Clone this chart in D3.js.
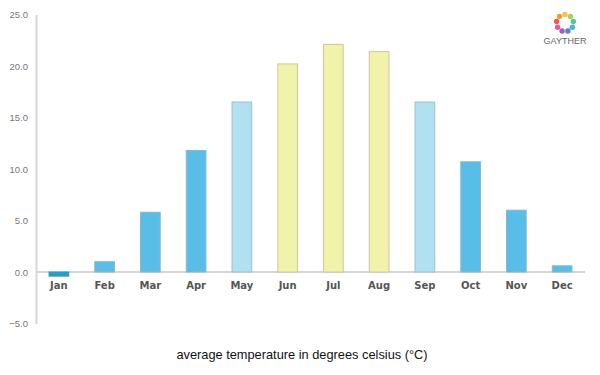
<!DOCTYPE html>
<html>
<head>
<meta charset="utf-8">
<script src="https://cdn.jsdelivr.net/npm/d3@7"></script>
<style>
  body { margin: 0; background: #fff; }
  svg { display: block; }
</style>
</head>
<body>
<div id="chart"></div>
<script>
const months = ['Jan', 'Feb', 'Mar', 'Apr', 'May', 'Jun', 'Jul', 'Aug', 'Sep', 'Oct', 'Nov', 'Dec'];
const temps = [-0.4, 1.0, 5.8, 11.8, 16.5, 20.2, 22.1, 21.4, 16.5, 10.7, 6.0, 0.6];
const seasons = ['cold', 'cool', 'cool', 'cool', 'mild', 'warm', 'warm', 'warm', 'mild', 'cool', 'cool', 'cool'];
const yTicks = [-5, 0, 5, 10, 15, 20, 25];
const title = 'average temperature in degrees celsius (°C)';

const fills = { cold: '#2c9cc6', cool: '#58bee7', mild: '#b1e0f1', warm: '#f1f3aa' };
const strokes = { cold: '#2c9cc6', cool: '#8fb6c6', mild: '#9cc0cc', warm: '#c8c8a0' };

const width = 600, height = 375;
const margin = { top: 14.5, right: 15, bottom: 51.5, left: 36 };

const svg = d3.select('#chart').append('svg')
  .attr('width', width).attr('height', height);

const x = d3.scaleBand()
  .domain(months)
  .range([margin.left, width - margin.right])
  .paddingInner(0.57)
  .paddingOuter(0.285);

const y = d3.scaleLinear()
  .domain([-5, 25])
  .range([height - margin.bottom, margin.top]);

// y axis
const yAxis = svg.append('g')
  .attr('transform', `translate(${margin.left},0)`)
  .call(d3.axisLeft(y).tickValues(yTicks).tickFormat(d3.format('.1f')).tickSize(0).tickPadding(8));
yAxis.select('.domain').attr('stroke', '#d6d6d6').attr('stroke-width', 2);
yAxis.selectAll('text')
  .attr('fill', '#777')
  .style('font-family', '"Liberation Sans", Arial, sans-serif')
  .style('font-size', '9.5px');

// zero line
svg.append('line')
  .attr('x1', margin.left).attr('x2', width - margin.right)
  .attr('y1', y(0)).attr('y2', y(0))
  .attr('stroke', '#d6d6d6').attr('stroke-width', 2);

// bars
svg.append('g').selectAll('rect')
  .data(months)
  .join('rect')
  .attr('x', (d) => x(d))
  .attr('width', x.bandwidth())
  .attr('y', (d, i) => y(Math.max(0, temps[i])))
  .attr('height', (d, i) => Math.abs(y(temps[i]) - y(0)))
  .attr('fill', (d, i) => fills[seasons[i]])
  .attr('stroke', (d, i) => strokes[seasons[i]])
  .attr('stroke-width', 1);

// month labels
svg.append('g').selectAll('text')
  .data(months)
  .join('text')
  .attr('x', (d) => x(d) + x.bandwidth() / 2)
  .attr('y', y(0) + 17)
  .attr('text-anchor', 'middle')
  .attr('fill', '#555')
  .style('font-family', '"DejaVu Sans", sans-serif')
  .style('font-size', '10px')
  .style('font-weight', 'bold')
  .text((d) => d);

// title
svg.append('text')
  .attr('x', 302)
  .attr('y', 359)
  .attr('text-anchor', 'middle')
  .attr('fill', '#111')
  .style('font-family', '"Liberation Sans", Arial, sans-serif')
  .style('font-size', '12.8px')
  .text(title);

// logo
const logo = svg.append('g').attr('transform', 'translate(565,23)');
const logoColors = ['#f4c542', '#a6d15b', '#5cc48d', '#4bb3d9', '#5a7fd1', '#9b5fc9', '#e05a9a', '#ee5b4f', '#f39a3c'];
logo.selectAll('circle')
  .data(logoColors)
  .join('circle')
  .attr('cx', (d, i) => 8.5 * Math.cos((i / logoColors.length) * 2 * Math.PI - Math.PI / 2))
  .attr('cy', (d, i) => 8.5 * Math.sin((i / logoColors.length) * 2 * Math.PI - Math.PI / 2))
  .attr('r', 2.7)
  .attr('fill', (d) => d);
logo.append('text')
  .attr('x', 0).attr('y', 21)
  .attr('text-anchor', 'middle')
  .attr('fill', '#666')
  .style('font-family', '"Liberation Sans", Arial, sans-serif')
  .style('font-size', '9px')
  .text('GAYTHER');
</script>
</body>
</html>
